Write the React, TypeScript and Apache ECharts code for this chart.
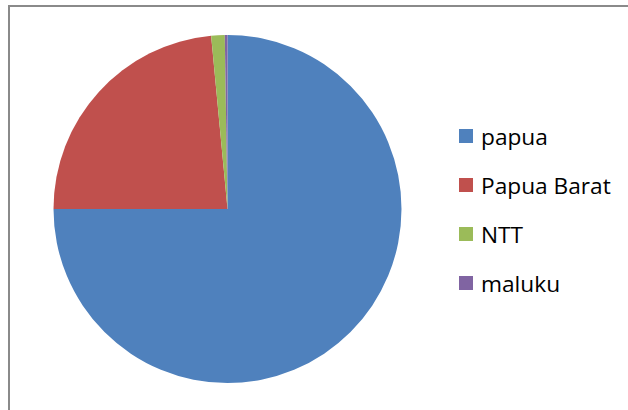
import React, { useEffect, useRef } from "react";
import * as echarts from "echarts";

const categories = ["papua", "Papua Barat", "NTT", "maluku"];
const values = [75.0, 23.5, 1.25, 0.25];
const colors = ["#4F81BD", "#C0504D", "#9BBB59", "#8064A2"];

export default function App() {
  const ref = useRef<HTMLDivElement>(null);
  useEffect(() => {
    if (!ref.current) return;
    const chart = echarts.init(ref.current, null, { renderer: "svg" });
    chart.setOption({
      animation: false,
      backgroundColor: "#ffffff",
      color: colors,
      graphic: [
        {
          type: "rect",
          shape: { x: 9, y: 6, width: 700, height: 500 },
          style: { fill: "none", stroke: "#8a8a8a", lineWidth: 2 },
          silent: true,
        },
      ],
      legend: {
        orient: "vertical",
        left: 459,
        top: 124,
        padding: 0,
        itemWidth: 14,
        itemHeight: 14,
        itemGap: 25,
        icon: "rect",
        data: categories,
        textStyle: {
          fontFamily: "Open Sans",
          fontSize: 22.7,
          lineHeight: 24,
          color: "#000000",
          padding: [0, 0, 0, 3],
        },
      },
      series: [
        {
          type: "pie",
          center: [227.5, 209],
          radius: 174,
          startAngle: 90,
          clockwise: true,
          label: { show: false },
          labelLine: { show: false },
          itemStyle: { borderWidth: 0 },
          emphasis: { disabled: true },
          data: categories.map((name, i) => ({ name, value: values[i] })),
        },
      ],
    });
    return () => chart.dispose();
  }, []);
  return (
    <div
      ref={ref}
      style={{ position: "fixed", left: 0, top: 0, width: 628, height: 410 }}
    />
  );
}
